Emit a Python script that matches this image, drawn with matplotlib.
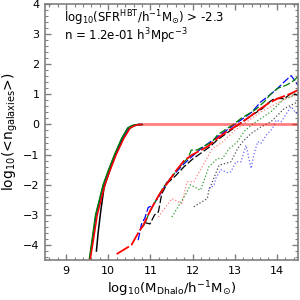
import matplotlib
matplotlib.use("Agg")
import matplotlib.pyplot as plt
from matplotlib.ticker import MultipleLocator

plt.rcParams['mathtext.default'] = 'regular'
plt.rcParams['font.family'] = ['DejaVu Sans']

# ---- centrals (solid) ----
cen_green_x = [9.55, 9.60, 9.70, 9.79, 9.88, 10.01, 10.15, 10.32, 10.46, 10.56, 10.65, 10.72]
cen_green_y = [-4.5, -4.0, -3.0, -2.5, -2.0, -1.5, -1.0, -0.46, -0.12, -0.04, -0.01, 0.0]
cen_blue_x = [9.56, 9.61, 9.71, 9.80, 9.89, 10.02, 10.16, 10.33, 10.47, 10.57, 10.66, 10.74]
cen_blue_y = [-4.5, -4.0, -3.0, -2.5, -2.0, -1.5, -1.0, -0.46, -0.12, -0.04, -0.01, 0.0]
cen_black_x = [9.72, 9.76, 9.82, 9.90, 10.03, 10.17, 10.35, 10.50, 10.60, 10.70, 10.80]
cen_black_y = [-4.2, -3.6, -2.9, -2.1, -1.55, -1.0, -0.48, -0.14, -0.05, -0.01, 0.0]
cen_red_x = [9.57, 9.63, 9.74, 9.83, 9.92, 10.05, 10.19, 10.37, 10.52, 10.62, 10.70, 10.78]
cen_red_y = [-4.5, -4.0, -3.0, -2.5, -2.0, -1.5, -1.0, -0.46, -0.12, -0.04, -0.01, 0.0]
cen_red_tail_x = [10.70, 14.5]
cen_red_tail_y = [0.0, 0.0]

# ---- satellites (dashed) ----
sat_red_x = [10.2, 10.55, 10.73, 10.83, 11.0, 11.2, 11.4, 11.6, 11.8, 12.0, 12.2, 12.35,
             12.6, 12.8, 13.07, 13.3, 13.62, 13.8, 14.02, 14.2, 14.34, 14.5]
sat_red_y = [-4.3, -4.0, -3.55, -3.35, -2.85, -2.35, -1.95, -1.55, -1.2, -1.0, -0.85, -0.74,
             -0.45, -0.25, -0.02, 0.2, 0.53, 0.7, 0.86, 0.95, 1.03, 1.14]
sat_blue_x = [10.71, 10.79, 10.87, 10.95, 11.05, 11.2, 11.4, 11.6, 11.8, 12.0, 12.2, 12.4,
              12.6, 12.8, 13.0, 13.2, 13.4, 13.62, 13.78, 14.02, 14.18, 14.34, 14.42, 14.5]
sat_blue_y = [-3.84, -3.3, -3.1, -2.75, -2.7, -2.4, -1.9, -1.6, -1.3, -1.05, -0.8, -0.6,
              -0.4, -0.2, 0.0, 0.2, 0.4, 0.75, 0.92, 1.2, 1.42, 1.62, 1.47, 1.3]
sat_green_x = [10.75, 10.87, 10.95, 11.1, 11.3, 11.5, 11.7, 11.9, 11.97, 12.1, 12.3, 12.47,
               12.59, 12.8, 12.95, 13.15, 13.35, 13.5, 13.7, 13.85, 14.02, 14.22, 14.35, 14.5]
sat_green_y = [-3.5, -3.3, -3.0, -2.6, -2.1, -1.75, -1.4, -1.1, -0.85, -0.85, -0.7, -0.57,
               -0.35, -0.15, -0.02, 0.2, 0.37, 0.5, 0.75, 1.0, 1.2, 1.3, 1.4, 1.58]
sat_black_x = [10.85, 10.99, 11.1, 11.19, 11.27, 11.4, 11.6, 11.8, 12.0, 12.2, 12.4, 12.6,
               12.8, 13.0, 13.2, 13.4, 13.66, 13.78, 13.94, 14.18, 14.34, 14.5]
sat_black_y = [-3.25, -3.3, -3.0, -2.9, -2.3, -1.95, -1.7, -1.4, -1.15, -0.95, -0.75, -0.5,
               -0.3, -0.1, 0.1, 0.3, 0.53, 0.7, 0.86, 0.86, 1.03, 0.97]

# ---- dotted (light) ----
dot_red_x = [11.19, 11.51, 11.75, 11.87, 12.03, 12.27, 12.47, 12.7, 13.0, 13.3, 13.6, 14.0, 14.3, 14.5]
dot_red_y = [-3.07, -2.46, -2.62, -1.9, -1.9, -1.3, -0.8, -0.6, -0.2, 0.1, 0.4, 0.7, 0.9, 1.0]
dot_green_x = [11.51, 11.87, 11.95, 12.19, 12.39, 12.59, 12.71, 12.87, 13.05, 13.22, 13.39,
               13.86, 14.18, 14.34, 14.5]
dot_green_y = [-3.07, -2.24, -2.0, -2.18, -1.4, -1.13, -1.13, -0.8, -0.6, -0.24, -0.02,
               0.42, 0.86, 0.92, 1.08]
dot_black_x = [12.03, 12.35, 12.39, 12.63, 12.91, 13.07, 13.19, 13.39, 13.6, 13.86, 14.18, 14.34, 14.5]
dot_black_y = [-2.73, -2.46, -2.18, -1.35, -1.24, -0.8, -0.57, -0.3, -0.1, 0.09, 0.53, 0.64, 0.75]
dot_blue_x = [12.39, 12.51, 12.55, 12.67, 12.83, 12.91, 13.03, 13.15, 13.27, 13.39, 13.47,
              13.55, 13.62, 13.78, 13.9, 13.98, 14.1, 14.34, 14.46, 14.5]
dot_blue_y = [-2.13, -2.02, -1.79, -1.5, -1.6, -1.57, -1.24, -1.24, -0.69, -1.46, -0.91,
              -0.57, -0.63, -0.3, -0.13, 0.14, 0.09, 0.59, 0.37, 0.45]

label_line1 = r'log$_{10}$(SFR$^{HBT}$/h$^{-1}$M$_{\odot}$) > -2.3'
label_line2 = r'n = 1.2e-01 h$^{3}$Mpc$^{-3}$'
xlabel = r'log$_{10}$(M$_{Dhalo}$/h$^{-1}$M$_{\odot}$)'
ylabel = r'log$_{10}$(<n$_{galaxies}$>)'

fig = plt.figure(figsize=(3, 3), dpi=100)
ax = fig.add_axes([0.15, 0.133, 0.843, 0.854])

# dotted
ax.plot(dot_red_x, dot_red_y, color='red', ls=':', lw=0.9, alpha=0.5)
ax.plot(dot_green_x, dot_green_y, color='green', ls=':', lw=0.9, alpha=0.8)
ax.plot(dot_black_x, dot_black_y, color='black', ls=':', lw=0.9, alpha=0.7)
ax.plot(dot_blue_x, dot_blue_y, color='blue', ls=':', lw=0.9, alpha=0.6)

# dashed satellites
ax.plot(sat_blue_x, sat_blue_y, color='blue', ls=(0, (6, 2)), lw=0.9)
ax.plot(sat_green_x, sat_green_y, color='green', ls=(0, (6, 2)), lw=0.9)
ax.plot(sat_black_x, sat_black_y, color='black', ls=(0, (6, 2)), lw=0.9)
ax.plot(sat_red_x, sat_red_y, color='red', ls=(0, (8, 1.5)), lw=1.3)

# centrals
ax.plot(cen_red_tail_x, cen_red_tail_y, color='red', lw=2, alpha=0.5, solid_capstyle='butt')
ax.plot(cen_black_x, cen_black_y, color='black', lw=1.1)
ax.plot(cen_blue_x, cen_blue_y, color='blue', lw=1.1)
ax.plot(cen_green_x, cen_green_y, color='green', lw=1.1)
ax.plot(cen_red_x, cen_red_y, color='red', lw=1.1)

ax.set_xlim(8.5, 14.5)
ax.set_ylim(-4.5, 4)
ax.xaxis.set_major_locator(MultipleLocator(1))
ax.xaxis.set_minor_locator(MultipleLocator(0.2))
ax.yaxis.set_major_locator(MultipleLocator(1))
ax.yaxis.set_minor_locator(MultipleLocator(0.2))
ax.tick_params(which='both', direction='in', top=True, right=True, color='#808080',
               labelsize=8, pad=4)
ax.tick_params(which='major', length=4, width=1)
ax.tick_params(which='minor', length=2, width=0.8)
for s in ax.spines.values():
    s.set_color('#808080')
    s.set_linewidth(1.2)

ax.text(0.075, 0.945, label_line1, transform=ax.transAxes, fontsize=8.5, va='center')
ax.text(0.075, 0.875, label_line2, transform=ax.transAxes, fontsize=8.5, va='center')

ax.set_xlabel(xlabel, fontsize=9.5, labelpad=3)
ax.set_ylabel(ylabel, fontsize=10, labelpad=2)

fig.savefig('out.png', dpi=100)
